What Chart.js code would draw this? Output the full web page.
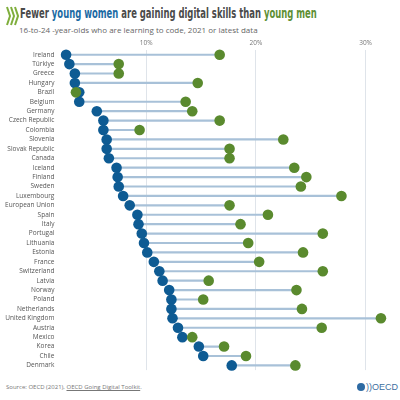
<!DOCTYPE html>
<html>
<head>
<meta charset="utf-8">
<script src="https://cdn.jsdelivr.net/npm/chart.js@4"></script>
<style>
  html, body { margin: 0; padding: 0; background: #fff; }
  body { width: 400px; height: 400px; position: relative; overflow: hidden; font-family: "Open Sans", sans-serif; }
  #logo { position: absolute; left: 5px; top: 6px; }
  #title { position: absolute; left: 20px; top: 5px; font-family: "DejaVu Sans", sans-serif; font-weight: bold; font-size: 14px; color: #4a4a4a; white-space: nowrap; transform-origin: 0 0; }
  #title .w { color: #1b6aa3; }
  #title .m { color: #5e8f34; }
  #sub { position: absolute; left: 19px; top: 24px; font-size: 8px; color: #666; white-space: nowrap; }
  #wrap { position: absolute; left: 0; top: 36px; width: 400px; height: 342px; }
  #src { position: absolute; left: 6px; top: 383px; font-size: 6px; color: #777; white-space: nowrap; }
  #src u { color: #777; }
  #oecd { position: absolute; left: 357px; top: 382px; font-size: 9px; color: #3d6fa0; font-family: "Liberation Sans", sans-serif; white-space: nowrap; }
  #oecd b { display: inline-block; width: 8px; height: 8px; border-radius: 50%; background: #2d6aa3; vertical-align: -1px; margin-right: 1px; }
</style>
</head>
<body>
<svg id="logo" width="14" height="20" viewBox="0 0 14 20">
  <path d="M2 1 L5 10 L2 19" stroke="#7fae3c" stroke-width="2" fill="none"/>
  <path d="M6 1 L9 10 L6 19" stroke="#7fae3c" stroke-width="2" fill="none"/>
  <path d="M10 1 L13 10 L10 19" stroke="#7fae3c" stroke-width="2" fill="none"/>
</svg>
<div id="title">Fewer <span class="w">young women</span> are gaining digital skills than <span class="m">young men</span></div>
<div id="sub">16-to-24 -year-olds who are learning to code, 2021 or latest data</div>
<div id="wrap"><canvas id="chart"></canvas></div>
<div id="src">Source: OECD (2021), <u>OECD Going Digital Toolkit</u>.</div>
<div id="oecd"><b></b>))OECD</div>
<script>
// squeeze the title into the same width as the original condensed font
const titleEl = document.getElementById('title');
titleEl.style.transform = 'scaleX(' + (297 / titleEl.offsetWidth) + ')';

const countries = ['Ireland', 'Türkiye', 'Greece', 'Hungary', 'Brazil', 'Belgium', 'Germany', 'Czech Republic',
  'Colombia', 'Slovenia', 'Slovak Republic', 'Canada', 'Iceland', 'Finland', 'Sweden', 'Luxembourg',
  'European Union', 'Spain', 'Italy', 'Portugal', 'Lithuania', 'Estonia', 'France', 'Switzerland',
  'Latvia', 'Norway', 'Poland', 'Netherlands', 'United Kingdom', 'Austria', 'Mexico', 'Korea', 'Chile', 'Denmark'];
const women = [2.7, 3.0, 3.5, 3.5, 3.9, 3.9, 5.5, 6.1, 6.1, 6.4, 6.4, 6.6, 7.3, 7.4, 7.5, 7.9,
  8.5, 9.2, 9.3, 9.6, 9.8, 10.1, 10.7, 11.2, 11.5, 12.1, 12.3, 12.3, 12.4, 12.9, 13.3, 14.8, 15.2, 17.8];
const men = [16.7, 7.5, 7.5, 14.7, 3.6, 13.6, 14.2, 16.7, 9.4, 22.5, 17.6, 17.6, 23.5, 24.6, 24.1, 27.8,
  17.6, 21.1, 18.6, 26.1, 19.3, 24.3, 20.3, 26.1, 15.7, 23.7, 15.2, 24.2, 31.4, 26.0, 14.2, 17.1, 19.1, 23.6];
const xTicks = [10, 20, 30];

const ranges = women.map((w, i) => [w, men[i]]);

const ctx = document.getElementById('chart').getContext('2d');
new Chart(ctx, {
  type: 'bar',
  data: {
    labels: countries,
    datasets: [
      {
        type: 'line',
        label: 'Young men',
        data: men,
        showLine: false,
        pointRadius: 5.3,
        pointBackgroundColor: '#5a8a2e',
        pointBorderWidth: 0,
        order: 1
      },
      {
        type: 'line',
        label: 'Young women',
        data: women,
        showLine: false,
        pointRadius: 5.3,
        pointBackgroundColor: '#0e5b93',
        pointBorderWidth: 0,
        order: 2
      },
      {
        label: 'gap',
        data: ranges,
        backgroundColor: '#a8c1d8',
        barThickness: 1.5,
        borderSkipped: false,
        order: 3
      }
    ]
  },
  options: {
    indexAxis: 'y',
    responsive: true,
    maintainAspectRatio: false,
    animation: false,
    layout: { padding: { left: 0, right: 7, top: 0, bottom: 0 } },
    plugins: { legend: { display: false }, tooltip: { enabled: false } },
    scales: {
      x: {
        position: 'top',
        min: 2,
        max: 32.5,
        afterBuildTicks: (scale) => { scale.ticks = xTicks.map(v => ({ value: v })); },
        afterFit: (scale) => { scale.height = 14; },
        grid: { color: '#dfe4ea', lineWidth: 1, drawTicks: false },
        border: { display: false },
        ticks: {
          padding: 3,
          color: '#777',
          font: { family: 'Open Sans', size: 6.5 },
          callback: (v) => v + '%'
        }
      },
      y: {
        afterFit: (scale) => { scale.width = 58.4; },
        grid: { display: false, drawTicks: false },
        border: { display: false },
        ticks: {
          padding: 4,
          color: '#555',
          autoSkip: false,
          font: { family: 'Open Sans', size: 6.5 }
        }
      }
    }
  }
});
</script>
</body>
</html>
